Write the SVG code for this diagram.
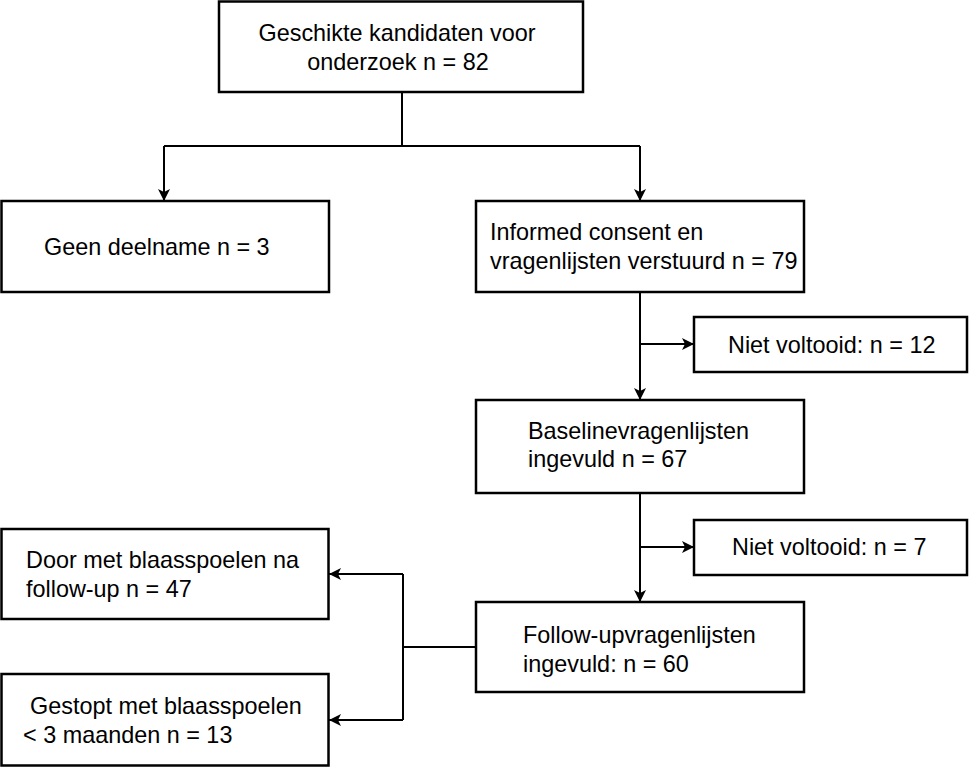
<svg xmlns="http://www.w3.org/2000/svg" width="969" height="767" viewBox="0 0 969 767">
<defs>
<marker id="arr" viewBox="0 0 12 12" refX="12" refY="6" markerWidth="12" markerHeight="12" markerUnits="userSpaceOnUse" orient="auto">
<path d="M0,0 L12,6 L0,12 L3,6 Z" fill="#000"/>
</marker>
</defs>
<style>
.box{fill:#fff;stroke:#000;stroke-width:2.5}
.t{font-family:"Liberation Sans",Arial,sans-serif;font-size:23.4px;fill:#000}
.c{fill:none;stroke:#000;stroke-width:2}
</style>
<rect width="969" height="767" fill="#fff"/>
<g id="connectors">
<path class="c" d="M402,92 V146 M164,146 H640"/>
<path class="c" d="M164,146 V201" marker-end="url(#arr)"/>
<path class="c" d="M640,146 V201" marker-end="url(#arr)"/>
<path class="c" d="M640,292 V400" marker-end="url(#arr)"/>
<path class="c" d="M640,344 H694" marker-end="url(#arr)"/>
<path class="c" d="M640,493 V602" marker-end="url(#arr)"/>
<path class="c" d="M640,547 H694" marker-end="url(#arr)"/>
<path class="c" d="M476,647 H403 M403,574 V720"/>
<path class="c" d="M403,574 H329" marker-end="url(#arr)"/>
<path class="c" d="M403,720 H329" marker-end="url(#arr)"/>
</g>
<g id="n1">
<rect class="box" x="219" y="1.5" width="364" height="90.5"/>
<text class="t" x="397" y="41" text-anchor="middle">Geschikte kandidaten voor</text>
<text class="t" x="398" y="70" text-anchor="middle">onderzoek n = 82</text>
</g>
<g id="n2">
<rect class="box" x="1.5" y="201" width="327.5" height="91"/>
<text class="t" x="44" y="255">Geen deelname n = 3</text>
</g>
<g id="n3">
<rect class="box" x="476" y="201" width="328" height="91"/>
<text class="t" x="490" y="240">Informed consent en</text>
<text class="t" x="490" y="269">vragenlijsten verstuurd n = 79</text>
</g>
<g id="n4">
<rect class="box" x="694" y="317" width="273" height="55"/>
<text class="t" x="728" y="353">Niet voltooid: n = 12</text>
</g>
<g id="n5">
<rect class="box" x="476" y="400" width="328" height="93"/>
<text class="t" x="528" y="439">Baselinevragenlijsten</text>
<text class="t" x="528" y="467">ingevuld n = 67</text>
</g>
<g id="n6">
<rect class="box" x="694" y="520" width="273" height="55"/>
<text class="t" x="732" y="555">Niet voltooid: n = 7</text>
</g>
<g id="n7">
<rect class="box" x="476" y="602" width="328" height="90"/>
<text class="t" x="523" y="643">Follow-upvragenlijsten</text>
<text class="t" x="523" y="672">ingevuld: n = 60</text>
</g>
<g id="n8">
<rect class="box" x="1.5" y="529" width="327" height="90"/>
<text class="t" x="26" y="568">Door met blaasspoelen na</text>
<text class="t" x="26" y="597">follow-up n = 47</text>
</g>
<g id="n9">
<rect class="box" x="1.5" y="674" width="327" height="91.5"/>
<text class="t" x="30" y="714">Gestopt met blaasspoelen</text>
<text class="t" x="23" y="743">&lt; 3 maanden n = 13</text>
</g>
</svg>
